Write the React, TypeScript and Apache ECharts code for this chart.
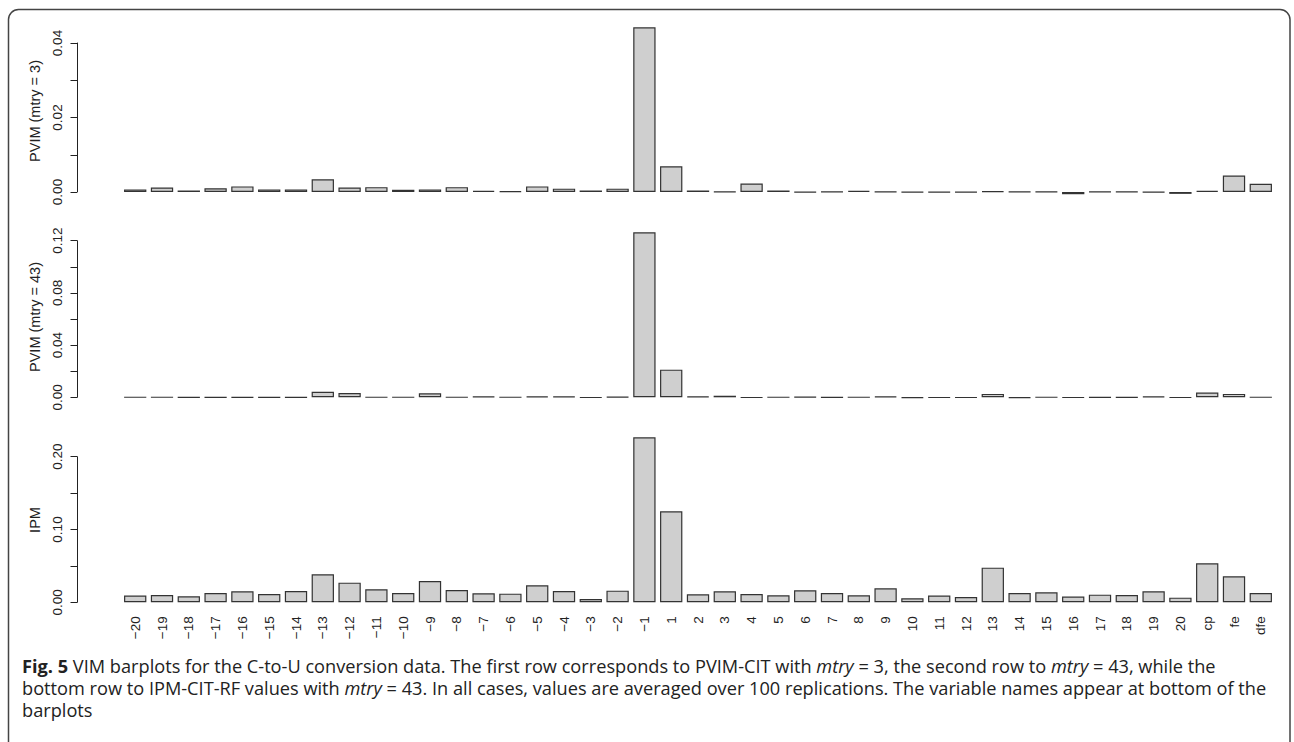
import React, { useEffect, useRef } from "react";
import * as echarts from "echarts";

const categories = [
  "−20", "−19", "−18", "−17", "−16", "−15", "−14", "−13", "−12", "−11",
  "−10", "−9", "−8", "−7", "−6", "−5", "−4", "−3", "−2", "−1",
  "1", "2", "3", "4", "5", "6", "7", "8", "9", "10",
  "11", "12", "13", "14", "15", "16", "17", "18", "19", "20",
  "cp", "fe", "dfe",
];

const pvimMtry3 = [
  0.0007, 0.0012, 0.0004, 0.001, 0.0015, 0.0007, 0.0007, 0.0034, 0.0012, 0.0013,
  0.0006, 0.0007, 0.0013, 0.0003, 0.0002, 0.0015, 0.0009, 0.0004, 0.0009, 0.0442,
  0.0069, 0.0004, 0.0001, 0.0023, 0.0004, -0.0001, 0.0001, 0.0003, 0.0001, -0.0001,
  -0.0001, -0.0001, 0.0002, 0.0001, 0.0001, -0.0006, 0.0001, 0.0001, -0.0001, -0.0005,
  0.0003, 0.0044, 0.0022,
];

const pvimMtry43 = [
  0.0001, 0.0001, -0.0001, -0.0001, -0.0002, -0.0001, -0.0001, 0.0043, 0.0033, 0.0001,
  0.0001, 0.0031, 0.0001, 0.0005, 0.0001, 0.0008, 0.0005, -0.0003, 0.0004, 0.1264,
  0.0212, 0.0006, 0.0012, -0.0003, 0.0001, 0.0003, -0.0001, 0.0001, 0.0006, -0.0004,
  -0.0003, -0.0003, 0.0026, -0.0004, 0.0001, -0.0003, -0.0002, -0.0002, 0.0006, -0.0003,
  0.0036, 0.0026, 0.0001,
];

const ipm = [
  0.0092, 0.0101, 0.0082, 0.0128, 0.0151, 0.0114, 0.0156, 0.0385, 0.027, 0.0179,
  0.0128, 0.0293, 0.0169, 0.0124, 0.0119, 0.0234, 0.0156, 0.0046, 0.016, 0.2266,
  0.125, 0.011, 0.0151, 0.0114, 0.0096, 0.0165, 0.0128, 0.0096, 0.0192, 0.0055,
  0.0092, 0.0073, 0.0476, 0.0128, 0.0137, 0.0078, 0.0105, 0.0101, 0.0151, 0.0064,
  0.0536, 0.0357, 0.0128,
];

const panelTitles = ["PVIM (mtry = 3)", "PVIM (mtry = 43)", "IPM"];
// [max, tick interval, label every n ticks]
const panelScales = [
  [0.04, 0.01, 2],
  [0.12, 0.02, 2],
  [0.2, 0.05, 2],
];

const captionLines = [
  "{b|Fig. 5} VIM barplots for the C-to-U conversion data. The first row corresponds to PVIM-CIT with {i|mtry} = 3, the second row to {i|mtry} = 43, while the",
  "bottom row to IPM-CIT-RF values with {i|mtry} = 43. In all cases, values are averaged over 100 replications. The variable names appear at bottom of the",
  "barplots",
];

const App: React.FC = () => {
  const ref = useRef<HTMLDivElement>(null);

  useEffect(() => {
    if (!ref.current) return;
    const chart = echarts.init(ref.current, undefined, { renderer: "svg" });

    const gridLeft = 121.8;
    const gridWidth = 1152.4;
    const grids = [
      { left: gridLeft, width: gridWidth, top: 43, height: 149 },
      { left: gridLeft, width: gridWidth, top: 240.7, height: 156.6 },
      { left: gridLeft, width: gridWidth, top: 456.7, height: 145.6 },
    ];
    const titleY = [111, 317, 520];
    const seriesData = [pvimMtry3, pvimMtry43, ipm];
    const font = "'Liberation Sans', Arial, Helvetica, sans-serif";
    const capFont = "'Open Sans', Lato, sans-serif";
    const capSize = 18.2;

    const option: any = {
      animation: false,
      backgroundColor: "#ffffff",
      grid: grids.map((g) => ({ ...g, containLabel: false })),
      xAxis: grids.map((_, i) => ({
        type: "category",
        gridIndex: i,
        data: categories,
        show: i === 2,
        axisLine: { show: false },
        axisTick: { show: false },
        axisLabel: {
          show: i === 2,
          rotate: 90,
          interval: 0,
          margin: 14,
          fontSize: 13.5,
          color: "#222",
          fontFamily: font,
        },
        splitLine: { show: false },
      })),
      yAxis: panelScales.map(([max, step, every], i) => ({
        type: "value",
        gridIndex: i,
        min: 0,
        max,
        interval: step,
        offset: 44.8,
        axisLine: { show: true, lineStyle: { color: "#222", width: 1 } },
        axisTick: { show: true, length: 6.5, lineStyle: { color: "#222", width: 1 } },
        splitLine: { show: false },
        axisLabel: {
          rotate: 90,
          margin: 13,
          fontSize: 13.5,
          color: "#222",
          fontFamily: font,
          formatter: (v: number) =>
            Math.round(v / step) % every === 0 ? v.toFixed(2) : "",
        },
      })),
      series: seriesData.map((d, i) => ({
        type: "bar",
        xAxisIndex: i,
        yAxisIndex: i,
        data: d,
        clip: false,
        barCategoryGap: "16.7%",
        itemStyle: { color: "#cfcfcf", borderColor: "#333", borderWidth: 1.2 },
        emphasis: { disabled: true },
      })),
      graphic: [
        {
          type: "rect",
          shape: { x: 8.5, y: 9.5, width: 1281.5, height: 800, r: 10 },
          style: { fill: "none", stroke: "#444", lineWidth: 1.5 },
          silent: true,
        },
        ...panelTitles.map((t, i) => ({
          type: "text",
          x: 35,
          y: titleY[i],
          rotation: Math.PI / 2,
          style: {
            text: t,
            fontSize: 14.5,
            fontFamily: font,
            fill: "#222",
            align: "center",
            verticalAlign: "middle",
          },
          silent: true,
        })),
        {
          type: "text",
          x: 22,
          y: 655,
          style: {
            text: captionLines.join("\n"),
            fontSize: capSize,
            lineHeight: 22,
            fontFamily: capFont,
            fill: "#222",
            align: "left",
            verticalAlign: "top",
            rich: {
              b: { fontWeight: "bold", fontSize: capSize, fontFamily: capFont, fill: "#222", lineHeight: 22 },
              i: { fontStyle: "italic", fontSize: capSize, fontFamily: capFont, fill: "#222", lineHeight: 22 },
            },
          },
          silent: true,
        },
      ],
    };

    chart.setOption(option);
    return () => chart.dispose();
  }, []);

  return (
    <div
      ref={ref}
      style={{ position: "fixed", left: 0, top: 0, width: 1294, height: 742 }}
    />
  );
};

export default App;
